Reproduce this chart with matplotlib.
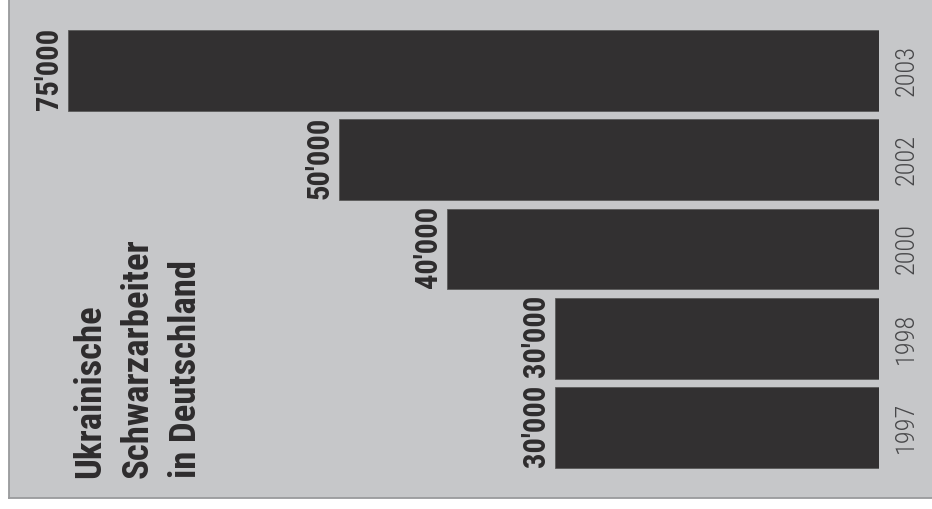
import matplotlib
matplotlib.use("Agg")
import matplotlib.pyplot as plt

# Data
years = ['1997', '1998', '2000', '2002', '2003']
workers = [30000, 30000, 40000, 50000, 75000]
value_labels = ["30'000", "30'000", "40'000", "50'000", "75'000"]
title = "Ukrainische\nSchwarzarbeiter\nin Deutschland"

font = 'Roboto Condensed'
W, H = 932, 509
fig = plt.figure(figsize=(W / 100, H / 100), dpi=100, facecolor='white')

# grey panel with left and bottom rule
bg_ax = fig.add_axes([8.5 / W, 11 / H, 1 - 8.5 / W, 1 - 11 / H], zorder=0)
bg_ax.set_facecolor('#c6c7c9')
bg_ax.set_xticks([])
bg_ax.set_yticks([])
for side in ['top', 'right']:
    bg_ax.spines[side].set_visible(False)
for side in ['left', 'bottom']:
    bg_ax.spines[side].set_color('#999a9c')
    bg_ax.spines[side].set_linewidth(1.3)

ax = fig.add_axes([9 / W, 11 / H, (879 - 9) / W, 498 / H], zorder=1)
ax.set_facecolor('none')
pos = list(range(len(years)))
bar_h = 0.907
ax.barh(pos, workers, height=bar_h, color='#323031', edgecolor='#5a5a5a', linewidth=0.6)
ax.set_xlim(80500, 0)
ax.set_ylim(-0.79, 4.79)
ax.axis('off')

for i, (v, lab, yr) in enumerate(zip(workers, value_labels, years)):
    ax.annotate(lab, (v, i - bar_h / 2), xytext=(-3, 1), textcoords='offset points',
                rotation=90, ha='right', va='bottom', fontsize=22,
                fontweight='bold', family=font, color='#2e2c2d', annotation_clip=False)
    ax.annotate(yr, (0, i), xytext=(11, 0), textcoords='offset points',
                rotation=90, ha='left', va='center', fontsize=19, fontweight='light',
                family=font, color='#48484a', annotation_clip=False)

fig.text(72 / W, 31 / H, title, rotation=90, ha='left', va='bottom',
         multialignment='left', fontsize=26.5, fontweight='bold', family=font,
         color='#2e2c2d', linespacing=1.42)

fig.savefig('out.png', dpi=100, facecolor='white')
